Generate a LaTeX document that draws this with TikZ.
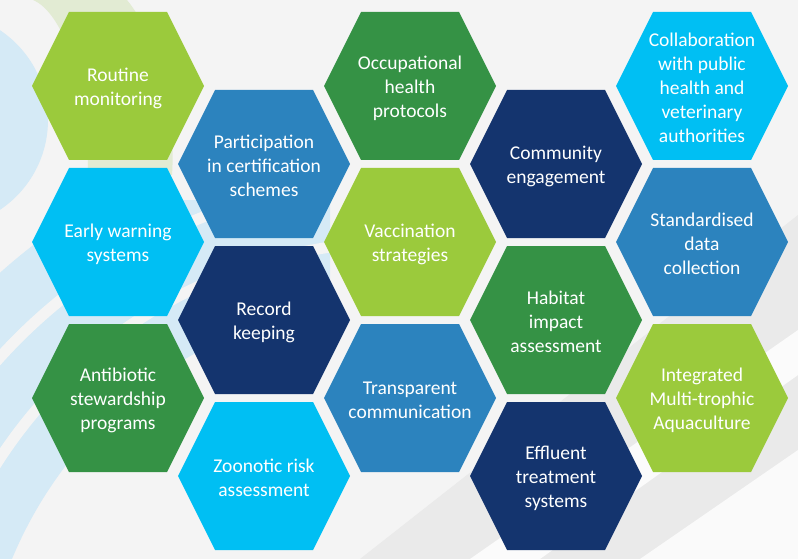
\documentclass[tikz,border=0pt]{standalone}
\usepackage{fontspec}
\setmainfont{Carlito}
\usetikzlibrary{calc}

\definecolor{leaf}{HTML}{9BCA3C}
\definecolor{forest}{HTML}{359245}
\definecolor{sky}{HTML}{00BFF3}
\definecolor{ocean}{HTML}{2C83BE}
\definecolor{navy}{HTML}{14346E}
\definecolor{paper}{HTML}{F4F4F4}
\definecolor{haze}{HTML}{EAEAEA}
\definecolor{mist}{HTML}{D5EAF6}
\definecolor{sage}{HTML}{E2EBD3}

\begin{document}
\begin{tikzpicture}[
        x=1pt, y=-1pt,
        hexlabel/.style={
            text=white,
            align=center,
            inner sep=0pt,
            font=\fontsize{19.5}{24}\selectfont
        }
    ]
        % --- BACKGROUND ---
        \fill[paper] (0,0) rectangle (798,559);
        \useasboundingbox (0,0) rectangle (798,559);

        % grey diagonal bands, lower right
        \fill[haze] (360,559) -- (798,215) -- (798,559) -- cycle;
        \fill[paper!40!white] (470,559) -- (798,330) -- (798,375) -- (540,559) -- cycle;
        \fill[haze!80!black!8!white] (640,559) -- (798,450) -- (798,559) -- cycle;

        % pale green swoosh behind the first cell
        \fill[sage] (33,0) -- (127,0) .. controls (160,40) and (176,120) .. (172,175)
            -- (88,175) .. controls (88,80) and (62,12) .. (33,0) -- cycle;

        % light blue disc on the left edge
        \fill[mist] (-60,120) circle (108pt);

        % light blue sweeps, lower left
        \begin{scope}
            \clip (0,200) rectangle (330,559);
            \fill[mist, even odd rule] (400,720) circle (600pt) (400,720) circle (420pt);
            \draw[paper, line width=11pt] (400,720) circle (478pt);
            \draw[paper, line width=11pt] (400,720) circle (540pt);
        \end{scope}

        % --- HEXAGON CELLS ---
        \foreach \name/\col/\row/\clr/\txt in {
            routine/0/0/leaf/Routine\\monitoring,
            warning/0/1/sky/Early warning\\systems,
            antibiotic/0/2/forest/Antibiotic\\stewardship\\programs,
            certification/1/0/ocean/Participation\\in certification\\schemes,
            record/1/1/navy/Record\\keeping,
            zoonotic/1/2/sky/Zoonotic risk\\assessment,
            occupational/2/0/forest/Occupational\\health\\protocols,
            vaccination/2/1/leaf/Vaccination\\strategies,
            transparent/2/2/ocean/Transparent\\communication,
            community/3/0/navy/Community\\engagement,
            habitat/3/1/forest/Habitat\\impact\\assessment,
            effluent/3/2/navy/Effluent\\treatment\\systems,
            collaboration/4/0/sky/Collaboration\\with public\\health and\\veterinary\\authorities,
            standardised/4/1/ocean/Standardised\\data\\collection,
            integrated/4/2/leaf/Integrated\\Multi-trophic\\Aquaculture} {
            \pgfmathsetmacro\cx{118+146*\col}
            \pgfmathsetmacro\cy{86+156*\row+78*mod(\col,2)}
            \fill[\clr] (\cx,\cy) +(-86,0) -- +(-49,-74) -- +(49,-74)
                -- +(86,0) -- +(49,74) -- +(-49,74) -- cycle;
            \node[hexlabel] (\name) at (\cx,\cy+2) {\txt};
        }

    \end{tikzpicture}
\end{document}
